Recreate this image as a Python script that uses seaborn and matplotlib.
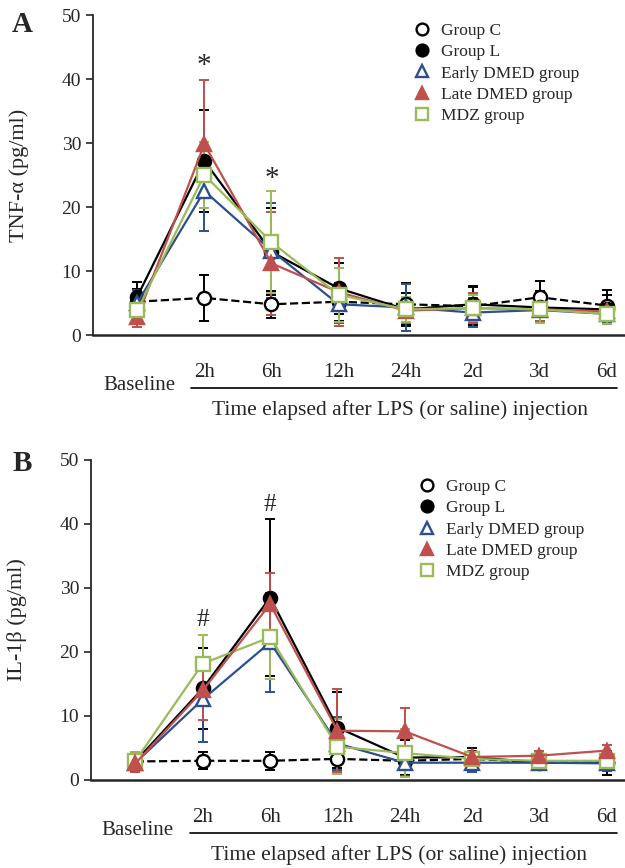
import matplotlib
matplotlib.use("Agg")
import matplotlib.pyplot as plt
from matplotlib.lines import Line2D
import numpy as np
import pandas as pd
import seaborn as sns

# --- data ---
time_labels = ["Baseline", "2h", "6h", "12h", "24h", "2d", "3d", "6d"]
groups = ["Group C", "Group L", "Early DMED group", "Late DMED group", "MDZ group"]

tnf_mean = {
    "Group C":          [5.2, 5.8, 4.8, 5.2, 4.8, 4.5, 5.9, 4.6],
    "Group L":          [6.0, 27.2, 13.0, 7.3, 4.0, 4.8, 4.3, 4.0],
    "Early DMED group": [5.0, 22.5, 13.2, 4.8, 4.3, 3.5, 3.9, 3.3],
    "Late DMED group":  [2.8, 29.8, 11.2, 6.7, 3.8, 4.2, 4.0, 3.7],
    "MDZ group":        [3.9, 25.0, 14.5, 6.3, 4.0, 4.2, 4.0, 3.3],
}
tnf_sd = {
    "Group C":          [2.0, 3.6, 2.1, 3.0, 3.4, 3.0, 2.6, 2.4],
    "Group L":          [2.3, 8.0, 6.8, 4.0, 2.5, 2.9, 2.5, 2.3],
    "Early DMED group": [2.0, 6.2, 7.4, 3.0, 3.6, 2.3, 2.0, 1.5],
    "Late DMED group":  [1.5, 10.0, 8.0, 5.3, 2.0, 2.3, 1.8, 1.5],
    "MDZ group":        [1.8, 5.2, 8.0, 4.2, 2.0, 2.0, 2.2, 1.6],
}

il1_mean = {
    "Group C":          [2.9, 3.0, 3.0, 3.3, 3.0, 3.3, 2.8, 2.8],
    "Group L":          [2.9, 14.3, 28.5, 8.2, 3.5, 3.6, 2.7, 2.7],
    "Early DMED group": [2.7, 12.6, 21.5, 5.7, 2.7, 2.7, 2.7, 2.6],
    "Late DMED group":  [2.6, 14.0, 27.5, 7.7, 7.6, 3.6, 3.8, 4.6],
    "MDZ group":        [3.0, 18.2, 22.3, 5.2, 4.2, 3.3, 3.0, 3.0],
}
il1_sd = {
    "Group C":          [1.5, 1.3, 1.4, 1.5, 1.0, 1.0, 1.0, 1.0],
    "Group L":          [1.5, 6.3, 12.3, 5.6, 2.7, 1.4, 1.0, 1.9],
    "Early DMED group": [1.4, 6.6, 7.7, 4.1, 2.0, 1.4, 1.2, 1.2],
    "Late DMED group":  [1.3, 4.7, 4.8, 6.5, 3.7, 1.0, 0.8, 0.9],
    "MDZ group":        [1.4, 4.5, 6.5, 4.3, 3.8, 1.2, 1.2, 1.0],
}

# significance marks: (time label, y, symbol)
tnf_marks = [("2h", 42.0, "*"), ("6h", 24.4, "*")]
il1_marks = [("2h", 25.0, "#"), ("6h", 43.0, "#")]

# --- style ---
blue = "#2B4F8F"
red = "#C0504D"
green = "#9BBB59"
style = {
    "Group C":          dict(color="black", marker="o", mfc="white", ls="--"),
    "Group L":          dict(color="black", marker="o", mfc="black", ls="-"),
    "Early DMED group": dict(color=blue, marker="^", mfc="white", ls="-"),
    "Late DMED group":  dict(color=red, marker="^", mfc=red, ls="-"),
    "MDZ group":        dict(color=green, marker="s", mfc="white", ls="-"),
}

sns.set_style("ticks")
plt.rcParams["font.family"] = ["Liberation Serif", "DejaVu Serif"]

fig = plt.figure(figsize=(6.25, 8.68), dpi=100)
ax_a = fig.add_axes([93 / 625, 1 - 335 / 868, 532 / 625, 320 / 868])
ax_b = fig.add_axes([91 / 625, 1 - 780 / 868, 534 / 625, 320 / 868])

x = np.arange(len(time_labels))


def draw_panel(ax, means, sds, marks, ylabel, order):
    for g in order:
        st = style[g]
        ax.errorbar(x, means[g], yerr=sds[g], fmt="none", ecolor=st["color"],
                    elinewidth=1.4, capsize=3.5, capthick=1.4, zorder=2)
        df = pd.DataFrame({"t": x, "v": means[g]})
        sns.lineplot(data=df, x="t", y="v", ax=ax, color=st["color"],
                     marker=st["marker"], markersize=9.5 if st["marker"] != "^" else 10.5,
                     markerfacecolor=st["mfc"], markeredgecolor=st["color"],
                     markeredgewidth=1.7, linestyle=st["ls"], linewidth=1.6,
                     zorder=3)

    ax.set_xlim(-0.66, 7.27)
    ax.set_ylim(0, 50)
    ax.set_yticks([0, 10, 20, 30, 40, 50])
    ax.set_xticks(x[1:])
    ax.set_xticklabels(time_labels[1:])
    ax.tick_params(axis="x", length=0, pad=20, labelsize=15)
    ax.tick_params(axis="y", length=5, width=1.2, labelsize=14, direction="out")
    sns.despine(ax=ax)
    ax.spines["left"].set_linewidth(1.3)
    ax.spines["bottom"].set_linewidth(1.8)
    ax.set_xlabel("")
    ax.set_ylabel(ylabel, fontsize=16)
    ax.yaxis.set_label_coords(-0.12, 0.5)

    ax.text(0.087, -0.157, "Baseline", transform=ax.transAxes,
            ha="center", va="center", fontsize=15)
    ax.plot([0.185, 0.985], [-0.165, -0.165], transform=ax.transAxes,
            color="black", lw=1.2, clip_on=False)
    ax.text(0.577, -0.235, "Time elapsed after LPS (or saline) injection",
            transform=ax.transAxes, ha="center", va="center", fontsize=15.5)

    for lab, yv, sym in marks:
        ax.text(time_labels.index(lab), yv, sym, ha="center", va="center",
                fontsize=21 if sym == "*" else 18)

    handles = [Line2D([], [], color=style[g]["color"], marker=style[g]["marker"],
                      markerfacecolor=style[g]["mfc"], markeredgecolor=style[g]["color"],
                      markeredgewidth=1.7, markersize=8.5, linestyle="none")
               for g in groups]
    return handles


h = draw_panel(ax_a, tnf_mean, tnf_sd, tnf_marks, "TNF-α (pg/ml)",
               ["Group C", "Group L", "Early DMED group", "Late DMED group", "MDZ group"])
ax_a.legend(h, groups, loc="upper left", bbox_to_anchor=(0.57, 1.025), frameon=False,
            fontsize=12.5, handletextpad=0.5, labelspacing=0.3, handlelength=1.2)

h = draw_panel(ax_b, il1_mean, il1_sd, il1_marks, "IL-1β (pg/ml)",
               ["Group C", "Group L", "Early DMED group", "MDZ group", "Late DMED group"])
ax_b.legend(h, groups, loc="upper left", bbox_to_anchor=(0.58, 0.99), frameon=False,
            fontsize=12.5, handletextpad=0.5, labelspacing=0.3, handlelength=1.2)

fig.text(22 / 625, 1 - 25 / 868, "A", fontsize=21, fontweight="bold", ha="center", va="center")
fig.text(22 / 625, 1 - 463 / 868, "B", fontsize=21, fontweight="bold", ha="center", va="center")

fig.savefig("out.png", dpi=100)
